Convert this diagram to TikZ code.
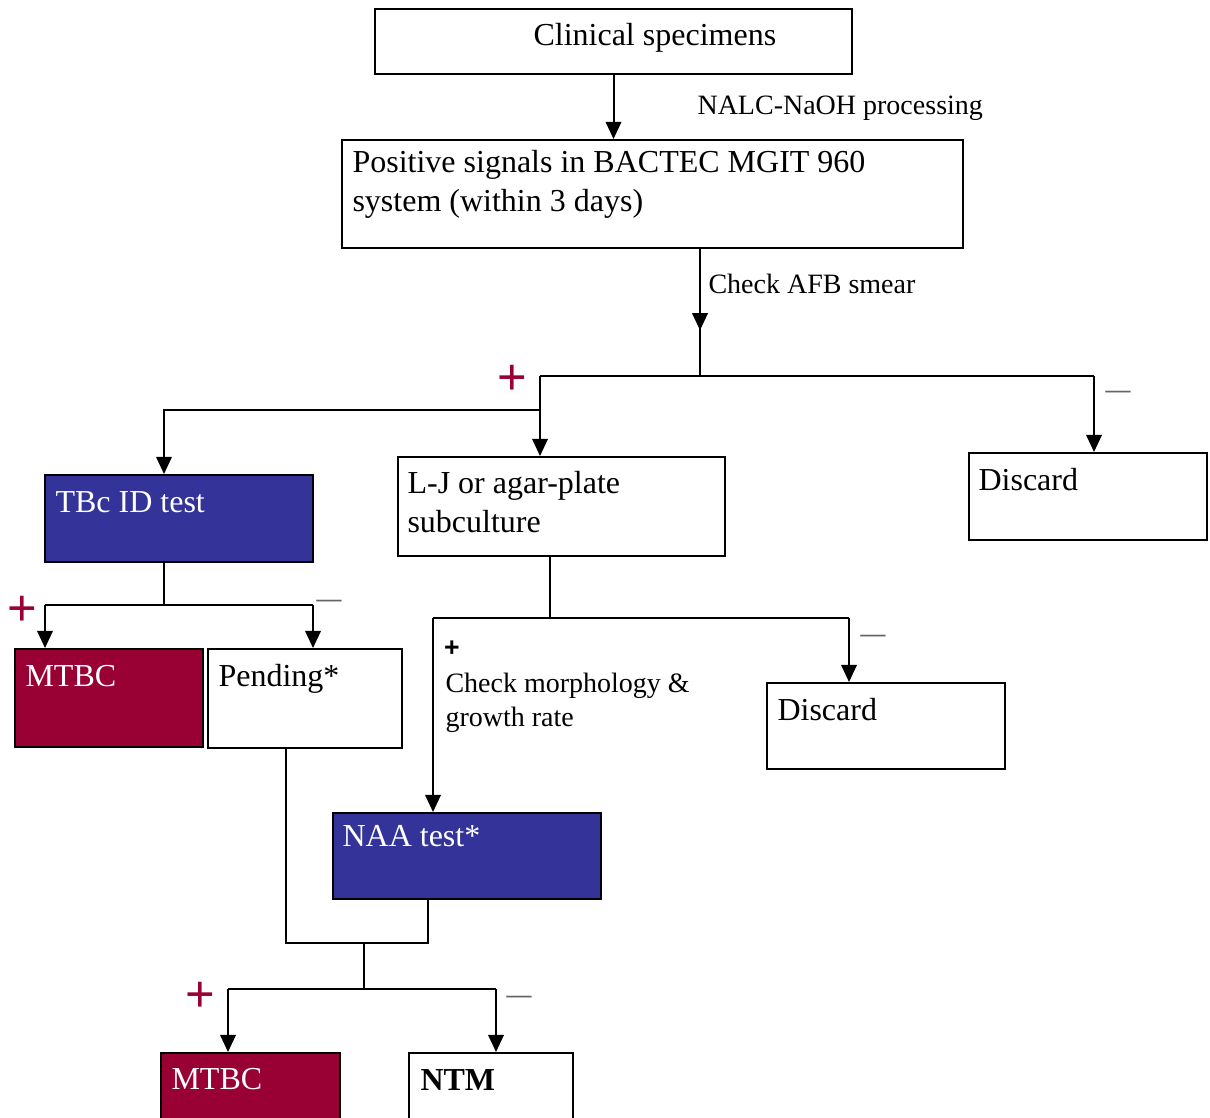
\documentclass[tikz,border=0pt]{standalone}
\usepackage{fontspec}
\setmainfont{Liberation Serif}
\newfontfamily\plusfont{Liberation Sans}
\usetikzlibrary{arrows.meta}
\usetikzlibrary{positioning}
\usetikzlibrary{fit}
\usetikzlibrary{decorations.markings}
\definecolor{tbblue}{RGB}{51,51,153}
\definecolor{mtbred}{RGB}{153,0,51}
\definecolor{dashgray}{RGB}{100,100,100}
\tikzset{
  box/.style={draw, line width=0.75pt, inner sep=0pt},
  bluebox/.style={box, fill=tbblue},
  redbox/.style={box, fill=mtbred},
  txt/.style={anchor=base west, inner sep=0pt, font=\fontsize{12}{14.3}\selectfont, align=left},
  note/.style={anchor=base west, inner sep=0pt, font=\fontsize{10.5}{12.4}\selectfont, align=left},
  possign/.style={text=mtbred, font=\plusfont\fontsize{19}{19}\selectfont, inner sep=0pt},
  negsign/.style={text=dashgray, font=\plusfont\fontsize{9.5}{9.5}\selectfont, inner sep=0pt},
  link/.style={line width=0.75pt},
  arr/.style={link, -{Triangle[length=6.4pt,width=5.8pt]}},
  midarr/.style={link, postaction={decorate},
    decoration={markings, mark=at position 0.64 with {\arrow{Triangle[length=6.4pt,width=5.8pt]}}}}
}
\begin{document}
\begin{tikzpicture}[x=0.375pt, y=-0.375pt]
  \useasboundingbox (0,0) rectangle (1210,1117);

  % boxes
  \node[box, fit={(375,9) (852,74)}] (spec) {};
  \node[box, fit={(342,140) (963,248)}] (pos) {};
  \node[box, fit={(969,453) (1207,540)}] (dis1) {};
  \node[box, fit={(398,457) (725,556)}] (lj) {};
  \node[bluebox, fit={(45,475) (313,562)}] (tbc) {};
  \node[redbox, fit={(15,649) (203,747)}] (mtb1) {};
  \node[box, fit={(208,649) (402,748)}] (pend) {};
  \node[box, fit={(767,683) (1005,769)}] (dis2) {};
  \node[bluebox, fit={(333,813) (601,899)}] (naa) {};
  \node[redbox, fit={(161,1053) (340,1130)}] (mtb2) {};
  \node[box, fit={(409,1053) (573,1130)}] (ntm) {};

  % box texts (multi-line: base is the last line)
  \node[txt] (specT) at (533,45) {Clinical specimens};
  \node[txt] (posT) at (352,211) {Positive signals in BACTEC MGIT 960\\system (within 3 days)};
  \node[txt] (dis1T) at (978,490) {Discard};
  \node[txt] (ljT) at (407,532) {L-J or agar-plate\\subculture};
  \node[txt, text=white] (tbcT) at (55,512) {TBc ID test};
  \node[txt, text=white] (mtb1T) at (25,686) {MTBC};
  \node[txt] (pendT) at (218,686) {Pending*};
  \node[txt] (dis2T) at (777,720) {Discard};
  \node[txt, text=white] (naaT) at (342,846) {NAA test*};
  \node[txt, text=white] (mtb2T) at (171,1089) {MTBC};
  \node[txt, font=\fontsize{12}{14.3}\selectfont\bfseries] (ntmT) at (420,1090) {NTM};

  % step labels
  \node[note] (proc) at (697,114) {NALC-NaOH processing};
  \node[note] (afbT) at (708,293) {Check AFB smear};
  \node[font=\plusfont\bfseries\fontsize{10}{10}\selectfont, inner sep=0pt] (morphP) at (452,649) {+};
  \node[note] (morph) at (445,726) {Check morphology \&\\growth rate};

  % signs
  \node[possign] (p1) at (512,380) {+};
  \node[possign] (p2) at (22,611) {+};
  \node[possign] (p3) at (200,997) {+};
  \node[negsign] (n1) at (1118,395) {—};
  \node[negsign] (n2) at (329,604) {—};
  \node[negsign] (n3) at (873,639) {—};
  \node[negsign] (n4) at (519,1000) {—};

  % junctions
  \coordinate (afb) at (700,376);
  \coordinate (smp) at (540,376);
  \coordinate (smn) at (1094,376);
  \coordinate (tbj) at (540,410);
  \coordinate (tbk) at (164,410);
  \coordinate (tbs) at (164,605);
  \coordinate (tbp) at (45,605);
  \coordinate (tbn) at (313,605);
  \coordinate (ljs) at (550,618);
  \coordinate (ljp) at (433,618);
  \coordinate (ljn) at (849,618);
  \coordinate (mgl) at (286,943);
  \coordinate (mgr) at (428,943);
  \coordinate (mgs) at (364,943);
  \coordinate (fin) at (364,989);
  \coordinate (finp) at (228,989);
  \coordinate (finn) at (496,989);

  % connectors
  \draw[arr] (spec.south) -- (spec.south |- pos.north);
  \draw[midarr] (pos.south -| afb) -- (afb);
  \draw[link] (smp) -- (smn);
  \draw[arr] (smn) -- (smn |- dis1.north);
  \draw[arr] (smp) -- (smp |- lj.north);
  \draw[arr] (tbj) -- (tbk) -- (tbk |- tbc.north);

  \draw[link] (tbs |- tbc.south) -- (tbs);
  \draw[link] (tbp) -- (tbn);
  \draw[arr] (tbp) -- (tbp |- mtb1.north);
  \draw[arr] (tbn) -- (tbn |- pend.north);

  \draw[link] (ljs |- lj.south) -- (ljs);
  \draw[link] (ljp) -- (ljn);
  \draw[arr] (ljn) -- (ljn |- dis2.north);
  \draw[arr] (ljp) -- (ljp |- naa.north);

  \draw[link] (mgl |- pend.south) -- (mgl) -- (mgr) -- (mgr |- naa.south);
  \draw[link] (mgs) -- (fin);
  \draw[link] (finp) -- (finn);
  \draw[arr] (finp) -- (finp |- mtb2.north);
  \draw[arr] (finn) -- (finn |- ntm.north);
\end{tikzpicture}
\end{document}
